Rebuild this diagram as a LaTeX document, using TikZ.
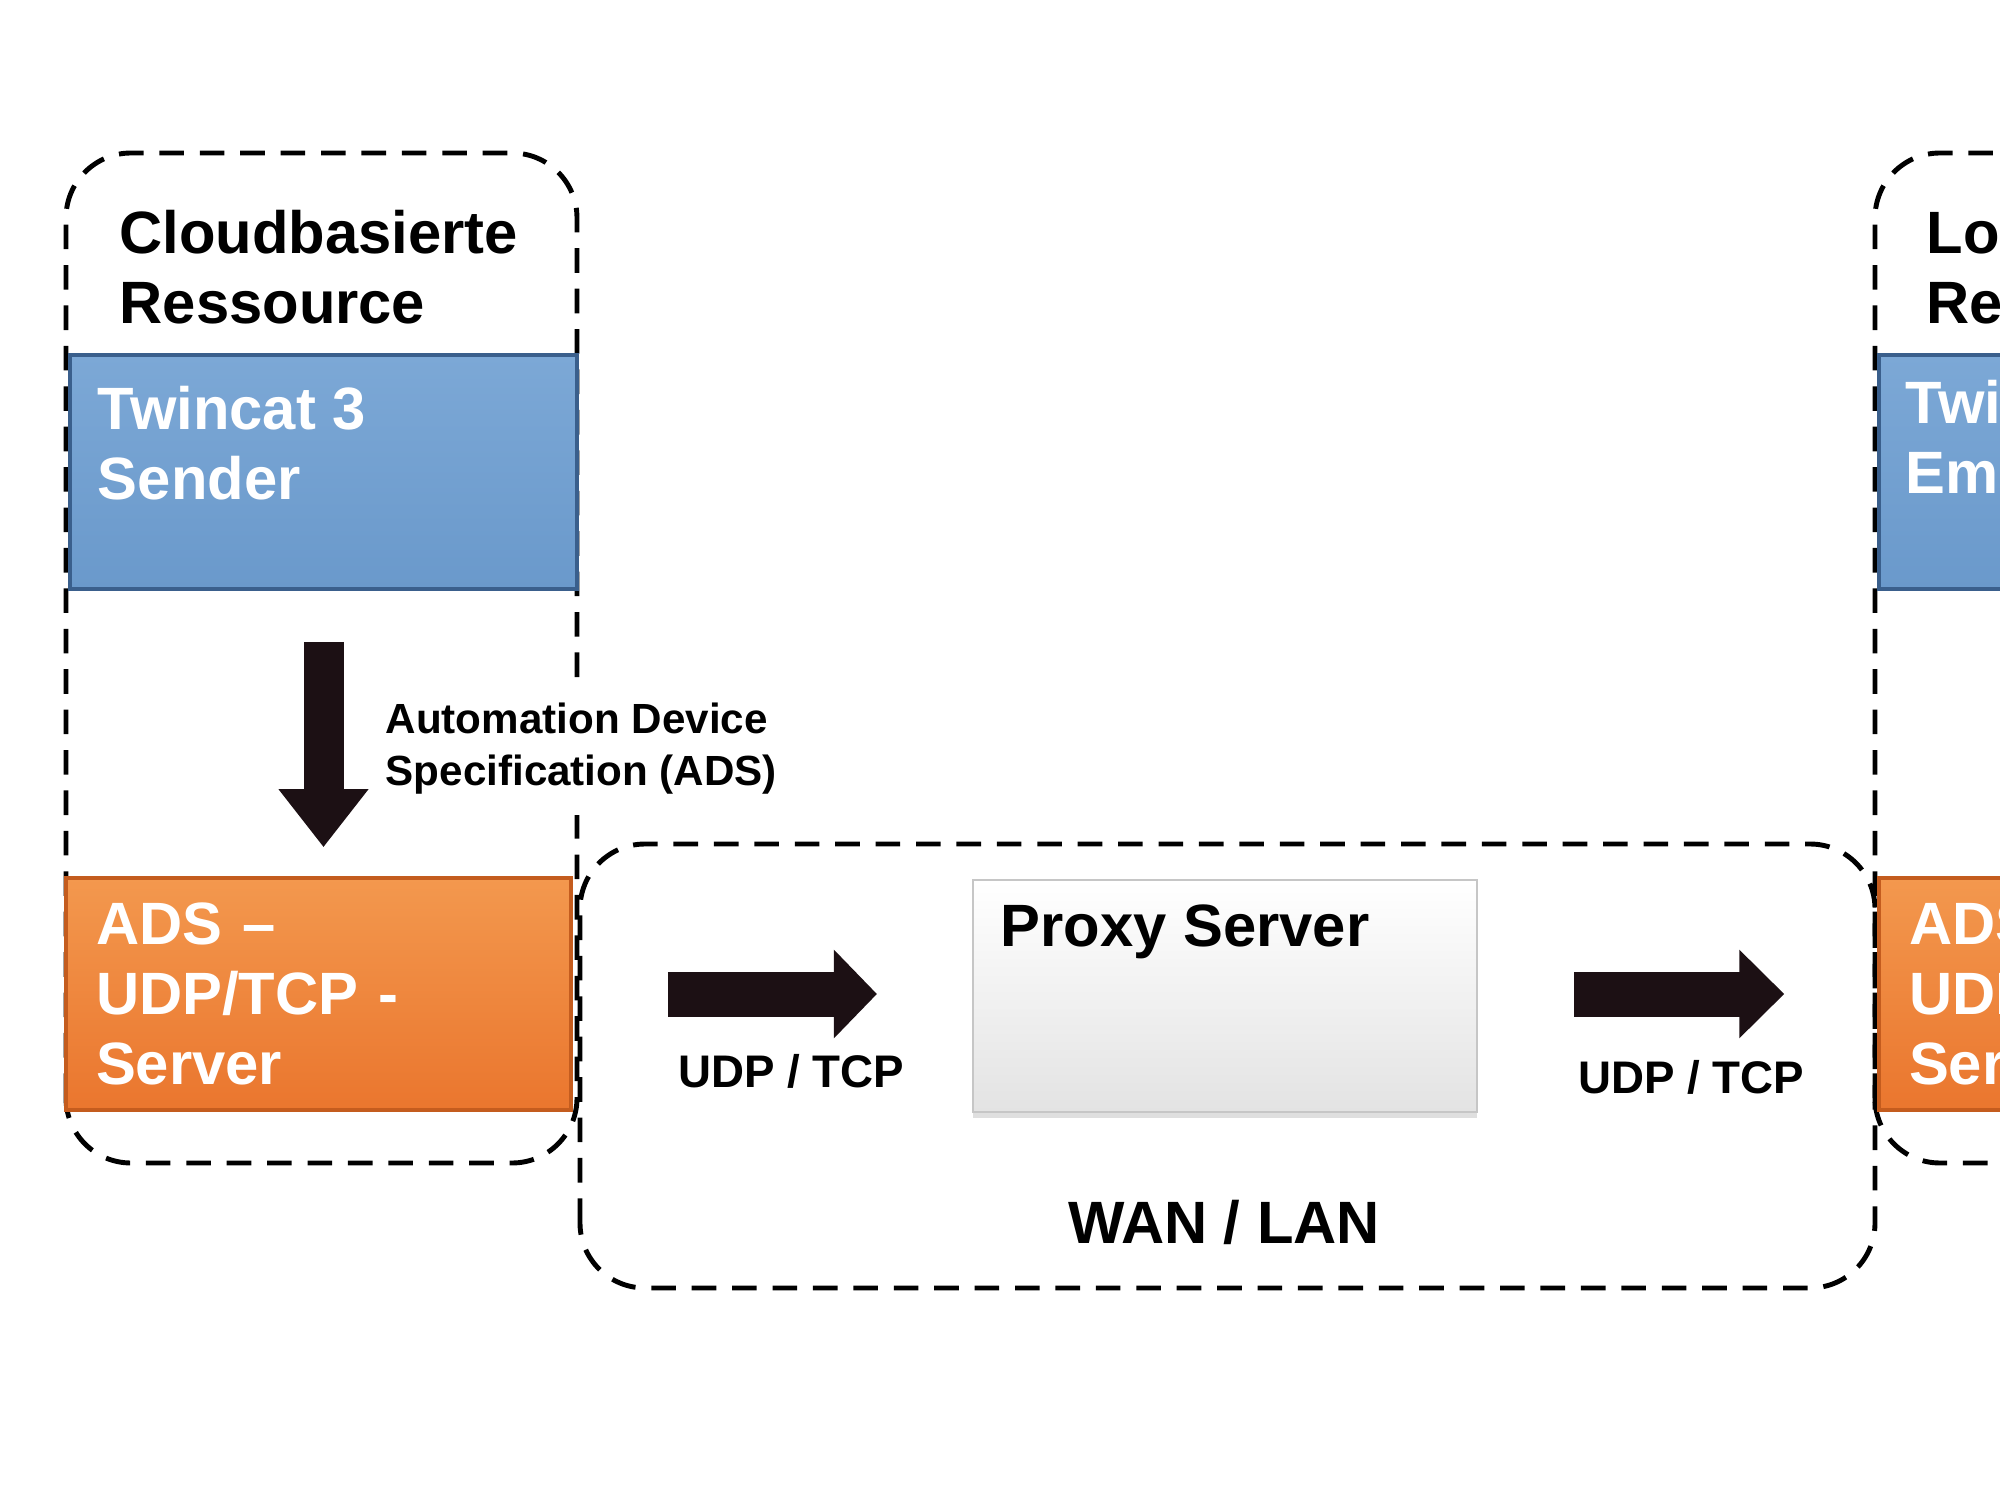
\documentclass[tikz,border=0pt]{standalone}
\usepackage{fontspec}
\setmainfont{Liberation Sans}
\usetikzlibrary{arrows.meta,calc,shadows}

\definecolor{bluemain}{RGB}{106,153,203}
\definecolor{bluelight}{RGB}{124,168,214}
\definecolor{bluedark}{RGB}{58,95,140}
\definecolor{orangemain}{RGB}{234,118,46}
\definecolor{orangelight}{RGB}{243,152,78}
\definecolor{orangedark}{RGB}{196,92,30}
\definecolor{arrowcol}{RGB}{28,16,20}

\tikzset{
  group/.style={draw, line width=1.4pt, dash pattern=on 7pt off 4.5pt, rounded corners=0.65cm},
  bigtext/.style={inner sep=0, font=\fontsize{17}{20}\selectfont\bfseries, align=left},
  boxtext/.style={bigtext, text=white},
  smalltext/.style={inner sep=0, font=\fontsize{12}{14.8}\selectfont\bfseries, align=left},
  udptext/.style={inner sep=0, font=\fontsize{13}{15}\selectfont\bfseries},
  senderbox/.style={draw=bluedark, line width=1pt, top color=bluelight, bottom color=bluemain,
    minimum width=5.07cm, minimum height=2.34cm, inner sep=0},
  adsbox/.style={boxtext, draw=orangedark, line width=1pt, top color=orangelight, bottom color=orangemain,
    text width=4.45cm, inner xsep=0.3cm, minimum height=2.32cm},
  proxybox/.style={draw=gray!45, line width=0.6pt, top color=white, bottom color=gray!22,
    minimum width=5.04cm, minimum height=2.32cm, inner sep=0,
    drop shadow={shadow xshift=0cm, shadow yshift=-0.06cm, opacity=0.25}},
  fatarrow/.style={draw=arrowcol, line width=0.45cm, -{Triangle[length=#1, width=0.86cm]}},
  fatarrow/.default=0.45cm
}

\begin{document}
\begin{tikzpicture}
  \useasboundingbox (0,0) rectangle (20,15);
  \clip (0,0) rectangle (20,15);

  % Dashed groups
  \draw[group] (0.66,3.37) rectangle (5.77,13.47);
  \draw[group] (5.80,2.12) rectangle (18.75,6.56);
  \draw[group] (18.75,3.37) rectangle (23.9,13.47);

  % Cloud resource
  \node[bigtext, anchor=west] (cloudtitle) at (1.19,12.33) {Cloudbasierte\\Ressource};
  \node[senderbox] (sender) at (3.235,10.28) {};
  \node[boxtext, anchor=west] (sendertext) at ($(sender.west)+(0.29,0.29)$) {Twincat 3\\Sender};
  \node[adsbox] (ads) at (3.185,5.06) {ADS –\\UDP/TCP -\\Server};

  % Proxy
  \node[proxybox] (proxy) at (12.25,5.04) {};
  \node[bigtext, anchor=west] (proxytext) at ($(proxy.west)+(0.28,0.64)$) {Proxy Server};
  \node[bigtext] (wan) at (12.24,2.78) {WAN / LAN};

  % Local resource
  \node[bigtext, anchor=west] (localtitle) at (19.26,12.33) {Lokale\\Ressource};
  \node[senderbox] (receiver) at (21.325,10.28) {};
  \node[boxtext, anchor=west] (receivertext) at ($(receiver.west)+(0.28,0.29)$) {Twincat 3\\Empfänger};
  \node[adsbox] (adsright) at (21.315,5.06) {ADS –\\UDP/TCP -\\Server};

  % Arrows
  \draw[fatarrow=0.58cm, line width=0.4cm, shorten <=0.51cm, shorten >=0.29cm]
    (sender.south) -- (sender.south |- ads.north);
  \node[smalltext, anchor=west, fill=white, inner xsep=0.05cm, inner ysep=0.2cm] (adslabel)
    at (3.80,7.51) {Automation Device\\Specification (ADS)};

  \draw[fatarrow=0.43cm, shorten <=0.95cm, shorten >=0.95cm] (ads.east) -- (ads.east -| proxy.west);
  \node[udptext] (udpleft) at (7.91,4.29) {UDP / TCP};

  \draw[fatarrow, shorten <=0.96cm, shorten >=0.93cm] (adsright.west -| proxy.east) -- (adsright.west);
  \node[udptext] (udpright) at (16.91,4.23) {UDP / TCP};

\end{tikzpicture}
\end{document}
